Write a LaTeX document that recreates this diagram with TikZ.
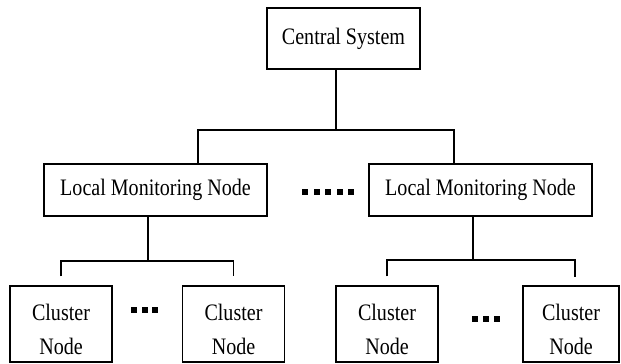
\documentclass[tikz,border=0pt]{standalone}
\usepackage{fontspec}
\setmainfont{Liberation Serif}[FakeStretch=0.85]
\begin{document}
\begin{tikzpicture}[x=0.5pt,y=-0.5pt,line width=0.7pt,
  box/.style={draw,rectangle,inner sep=0pt,align=center,
    font=\fontsize{11.8}{17}\selectfont},
  sysbox/.style={box,minimum width=76.5pt,minimum height=30.5pt},
  localbox/.style={box,minimum width=111.5pt,minimum height=26pt},
  clusterbox/.style={box,minimum width=51pt,minimum height=38pt}]
\useasboundingbox (0,0) rectangle (621,364);
\node[sysbox](cs) at (343.5,38.5){Central System};
\node[localbox](lm1) at (155.5,190){Local Monitoring Node};
\node[localbox](lm2) at (480.5,190){Local Monitoring Node};
\node[clusterbox](c1) at (61,324){\rule{0pt}{14pt}Cluster\\Node};
\node[clusterbox](c2) at (233.5,324){\rule{0pt}{14pt}Cluster\\Node};
\node[clusterbox](c3) at (387,324){\rule{0pt}{14pt}Cluster\\Node};
\node[clusterbox,minimum width=48pt](c4) at (571,324){\rule{0pt}{14pt}Cluster\\Node};
% bars
\coordinate (j0) at (336,130);
\coordinate (b1) at (198,130);
\coordinate (b2) at (454,130);
\coordinate (s1) at (148,261);
\coordinate (s2) at (473,260);
\coordinate (t4) at (575,277);
\draw (cs.south -| j0) -- (j0);
\draw (lm1.north -| b1) -- (b1) -- (b2) -- (lm2.north -| b2);
\draw (lm1.south -| s1) -- (s1);
\draw ([yshift=4.5pt]c1.north) |- (s1) -| ([yshift=4.5pt]c2.north);
\draw (lm2.south -| s2) -- (s2);
\draw ([yshift=4.5pt]c3.north) |- (s2) -| (t4);
% dots
\foreach \x in {305,316.5,328,339.5,351}
  \fill (\x-3,189) rectangle (\x+3,195);
\foreach \x in {134,144.5,155}
  \fill (\x-3,307) rectangle (\x+3,313);
\foreach \x in {475,486,497}
  \fill (\x-3,316) rectangle (\x+3,322);
\end{tikzpicture}
\end{document}
